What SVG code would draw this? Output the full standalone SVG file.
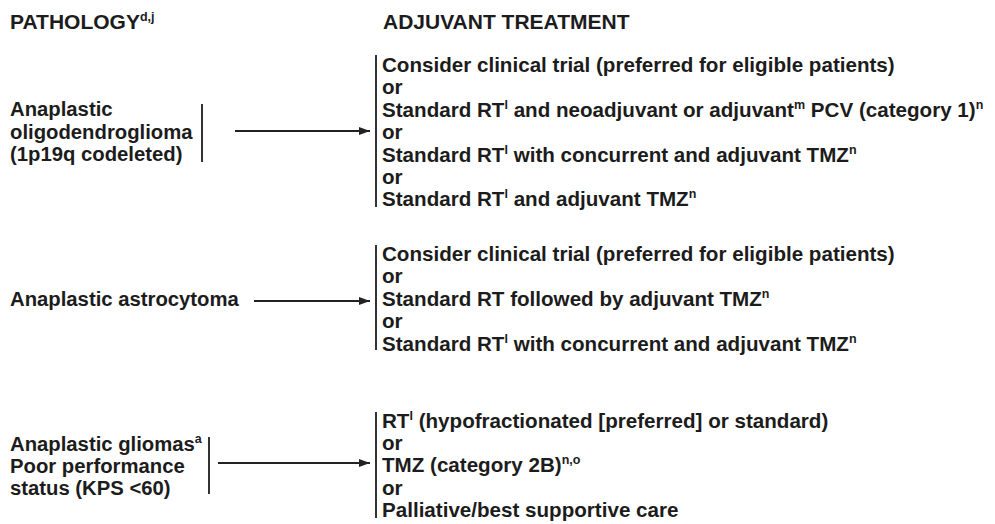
<svg xmlns="http://www.w3.org/2000/svg" width="995" height="524" viewBox="0 0 995 524">
  <style>
    text { font-family: "Liberation Sans", Arial, sans-serif; font-weight: bold; fill: #1c1c1c; }
    .hd { font-size: 21px; }
    .lt { font-size: 20.3px; }
    .rt { font-size: 20.6px; }
    .sup { font-size: 12.5px; }
    .bar { stroke: #333; stroke-width: 2; fill: none; }
    .arrow { stroke: #222; stroke-width: 2; fill: none; marker-end: url(#head); }
  </style>
  <defs>
    <marker id="head" markerWidth="12" markerHeight="10" refX="11" refY="4" orient="auto" markerUnits="userSpaceOnUse">
      <path d="M0,0 L11,4 L0,8 Z" fill="#222"/>
    </marker>
  </defs>
  <rect width="995" height="524" fill="#fff"/>

  <!-- column headings -->
  <g id="headings">
    <text class="hd" x="10" y="29">PATHOLOGY<tspan class="sup" dy="-8">d,j</tspan></text>
    <text class="hd" x="383" y="29">ADJUVANT TREATMENT</text>
  </g>

  <!-- pathology nodes -->
  <g id="path-oligo">
    <text class="lt" x="10" y="116">Anaplastic</text>
    <text class="lt" x="10" y="138.5">oligodendroglioma</text>
    <text class="lt" x="10" y="161">(1p19q codeleted)</text>
    <line class="bar" x1="202" y1="104" x2="202" y2="162"/>
  </g>
  <g id="path-astro">
    <text class="lt" x="10" y="306">Anaplastic astrocytoma</text>
  </g>
  <g id="path-poor">
    <text class="lt" x="10" y="450.5">Anaplastic gliomas<tspan class="sup" dy="-8">a</tspan></text>
    <text class="lt" x="10" y="472.8">Poor performance</text>
    <text class="lt" x="10" y="495">status (KPS &lt;60)</text>
    <line class="bar" x1="209" y1="437" x2="209" y2="494"/>
  </g>

  <!-- treatment nodes -->
  <g id="tx-oligo">
    <line class="bar" x1="376" y1="55" x2="376" y2="207"/>
    <text class="rt" x="382" y="72">Consider clinical trial (preferred for eligible patients)</text>
    <text class="rt" x="382" y="94.4">or</text>
    <text class="rt" x="382" y="116.8">Standard RT<tspan class="sup" dy="-8">l</tspan><tspan dy="8"> and neoadjuvant or adjuvant</tspan><tspan class="sup" dy="-8">m</tspan><tspan dy="8"> PCV (category 1)</tspan><tspan class="sup" dy="-8">n</tspan></text>
    <text class="rt" x="382" y="139.2">or</text>
    <text class="rt" x="382" y="161.6">Standard RT<tspan class="sup" dy="-8">l</tspan><tspan dy="8"> with concurrent and adjuvant TMZ</tspan><tspan class="sup" dy="-8">n</tspan></text>
    <text class="rt" x="382" y="184">or</text>
    <text class="rt" x="382" y="206.4">Standard RT<tspan class="sup" dy="-8">l</tspan><tspan dy="8"> and adjuvant TMZ</tspan><tspan class="sup" dy="-8">n</tspan></text>
  </g>
  <g id="tx-astro">
    <line class="bar" x1="376" y1="245" x2="376" y2="350"/>
    <text class="rt" x="382" y="261">Consider clinical trial (preferred for eligible patients)</text>
    <text class="rt" x="382" y="283.4">or</text>
    <text class="rt" x="382" y="305.8">Standard RT followed by adjuvant TMZ<tspan class="sup" dy="-8">n</tspan></text>
    <text class="rt" x="382" y="328.2">or</text>
    <text class="rt" x="382" y="350.6">Standard RT<tspan class="sup" dy="-8">l</tspan><tspan dy="8"> with concurrent and adjuvant TMZ</tspan><tspan class="sup" dy="-8">n</tspan></text>
  </g>
  <g id="tx-poor">
    <line class="bar" x1="376" y1="412" x2="376" y2="518"/>
    <text class="rt" x="382" y="427.5">RT<tspan class="sup" dy="-8">l</tspan><tspan dy="8"> (hypofractionated [preferred] or standard)</tspan></text>
    <text class="rt" x="382" y="449.9">or</text>
    <text class="rt" x="382" y="472.3">TMZ (category 2B)<tspan class="sup" dy="-8">n,o</tspan></text>
    <text class="rt" x="382" y="494.7">or</text>
    <text class="rt" x="382" y="517.1">Palliative/best supportive care</text>
  </g>

  <!-- connectors -->
  <g id="connectors">
    <line class="arrow" x1="235" y1="131" x2="370" y2="131"/>
    <line class="arrow" x1="254" y1="301" x2="370" y2="301"/>
    <line class="arrow" x1="218" y1="463" x2="370" y2="463"/>
  </g>
</svg>
